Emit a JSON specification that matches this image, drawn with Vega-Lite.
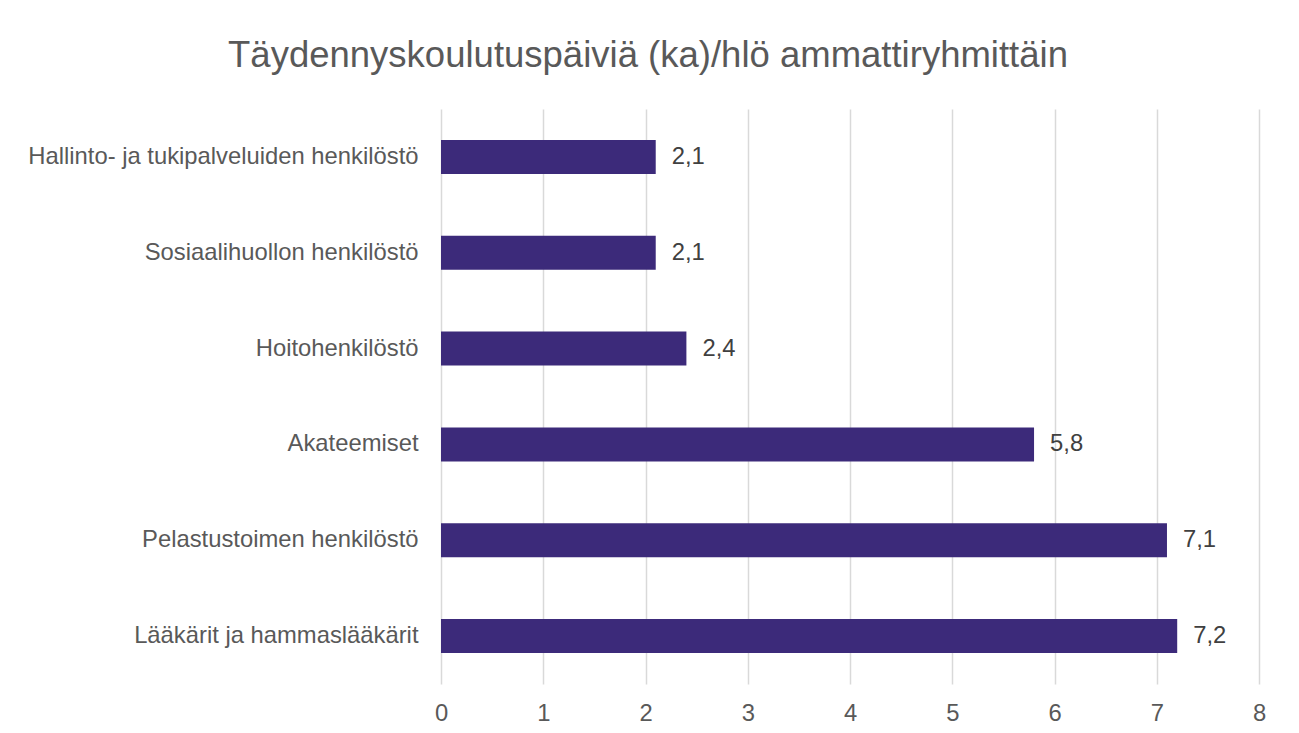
{
  "$schema": "https://vega.github.io/schema/vega-lite/v6.json",
  "autosize": {"type": "none"},
  "padding": {"left": 441, "top": 109, "right": 40, "bottom": 49},
  "width": 818,
  "height": 575,
  "background": "white",
  "config": {
    "font": "Liberation Sans",
    "view": {"stroke": null},
    "locale": {"number": {"decimal": ",", "thousands": " ", "grouping": [3], "currency": ["", " €"]}}
  },
  "title": {
    "text": "Täydennyskoulutuspäiviä (ka)/hlö ammattiryhmittäin",
    "font": "Liberation Sans",
    "fontSize": 36.5,
    "fontWeight": "normal",
    "color": "#595959",
    "anchor": "middle",
    "frame": "group",
    "dx": -202,
    "baseline": "alphabetic",
    "offset": 6
  },
  "data": {
    "values": [
      {"ryhma": "Hallinto- ja tukipalveluiden henkilöstö", "paivat": 2.1},
      {"ryhma": "Sosiaalihuollon henkilöstö", "paivat": 2.1},
      {"ryhma": "Hoitohenkilöstö", "paivat": 2.4},
      {"ryhma": "Akateemiset", "paivat": 5.8},
      {"ryhma": "Pelastustoimen henkilöstö", "paivat": 7.1},
      {"ryhma": "Lääkärit ja hammaslääkärit", "paivat": 7.2}
    ]
  },
  "encoding": {
    "y": {
      "field": "ryhma",
      "type": "nominal",
      "sort": null,
      "title": null,
      "scale": {"paddingInner": 0.645, "paddingOuter": 0.3225},
      "axis": {
        "domain": false,
        "ticks": false,
        "labelPadding": 23,
        "labelFontSize": 23.8,
        "labelColor": "#595959",
        "labelFont": "Liberation Sans",
        "labelLimit": 600
      }
    },
    "x": {
      "field": "paivat",
      "type": "quantitative",
      "title": null,
      "scale": {"domain": [0, 8], "nice": false, "zero": true},
      "axis": {
        "values": [0, 1, 2, 3, 4, 5, 6, 7, 8],
        "format": "d",
        "domain": false,
        "ticks": false,
        "grid": true,
        "gridColor": "#d9d9d9",
        "gridWidth": 1.5,
        "labelFlush": false,
        "labelPadding": 17,
        "labelFontSize": 23.8,
        "labelColor": "#595959",
        "labelFont": "Liberation Sans"
      }
    }
  },
  "layer": [
    {"mark": {"type": "bar", "color": "#3c2a7a"}},
    {
      "mark": {"type": "text", "align": "left", "baseline": "middle", "dx": 16, "fontSize": 23.8, "color": "#404040", "font": "Liberation Sans"},
      "encoding": {"text": {"field": "paivat", "type": "quantitative", "format": ".1f"}}
    }
  ]
}
